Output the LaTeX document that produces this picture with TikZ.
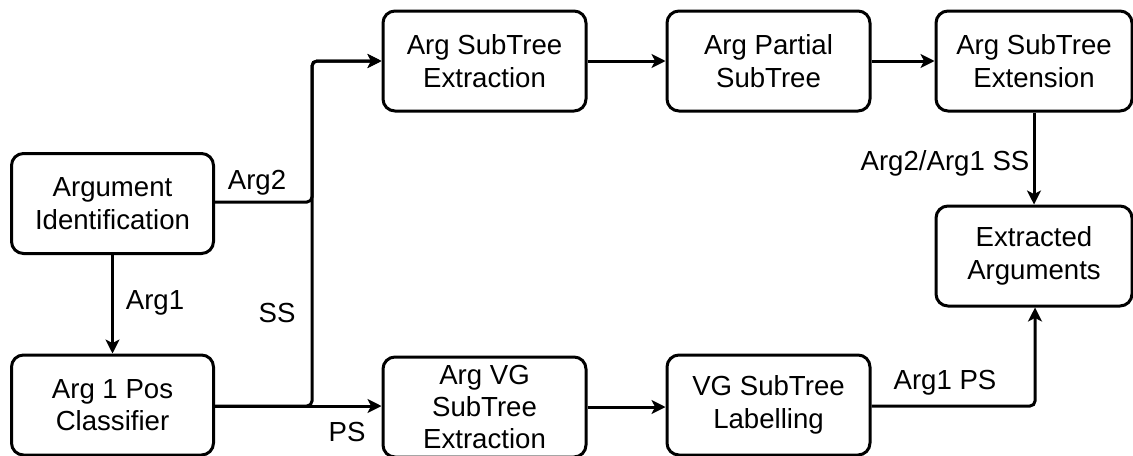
\documentclass[tikz,border=0pt]{standalone}
\usepackage{fontspec}
\setmainfont{Liberation Sans}
\usetikzlibrary{arrows.meta}
\tikzset{
  box/.style={draw, line width=1.5pt, rounded corners=6pt, align=center,
    minimum height=50pt, inner sep=0pt, font=\fontsize{13.8}{16.2}\selectfont},
  conn/.style={line width=1.5pt, rounded corners=2.5pt, -{Stealth[length=7pt,width=7pt,inset=1.8pt]}},
  lbl/.style={font=\fontsize{13.8}{16}\selectfont, inner sep=0pt}
}
\begin{document}
\begin{tikzpicture}[x=0.5pt,y=-0.5pt]
\useasboundingbox (0,0) rectangle (1133,455);
\node[box, minimum width=101pt] (ai) at (112.5,203.5) {Argument\\Identification};
\node[box, minimum width=101pt] (apc) at (112.5,405) {Arg 1 Pos\\Classifier};
\node[box, minimum width=101.5pt] (ase) at (484.5,61) {Arg SubTree\\Extraction};
\node[box, minimum width=101.5pt] (aps) at (768.5,61) {Arg Partial\\SubTree};
\node[box, minimum width=98pt] (asx) at (1034,61) {Arg SubTree\\Extension};
\node[box, minimum width=98pt] (ea) at (1034,256) {Extracted\\Arguments};
\node[box, minimum width=101.5pt] (avg) at (484.5,407) {Arg VG\\SubTree\\Extraction};
\node[box, minimum width=101.5pt, minimum height=50pt] (vgl) at (768.5,405) {VG SubTree\\Labelling};
\coordinate (jt) at (312,61);
\coordinate (jb) at (312,406);
\coordinate (jr) at (1035,406);
\draw[conn] (ai.east |- 0,202) -- (312,202) -- (jt) -- (ase.west);
\draw[conn] (apc.east |- jb) -- (jb) -- (jt) -- (ase.west);
\draw[conn] (apc.east |- jb) -- (avg.west |- jb);
\draw[conn] (ai.south) -- (apc.north);
\draw[conn] (ase.east) -- (aps.west);
\draw[conn] (aps.east) -- (asx.west);
\draw[conn] (asx.south) -- (ea.north);
\draw[conn] (avg.east |- 0,407) -- (vgl.west |- 0,407);
\draw[conn] (vgl.east |- jr) -- (jr) -- (jr |- ea.south);
\node[lbl] (l1) at (257,183) {Arg2};
\node[lbl] (l2) at (155,303) {Arg1};
\node[lbl] (l3) at (277,313) {SS};
\node[lbl] (l4) at (347,432) {PS};
\node[lbl] (l5) at (945,163) {Arg2/Arg1 SS};
\node[lbl] (l6) at (945,383) {Arg1 PS};
\end{tikzpicture}
\end{document}
